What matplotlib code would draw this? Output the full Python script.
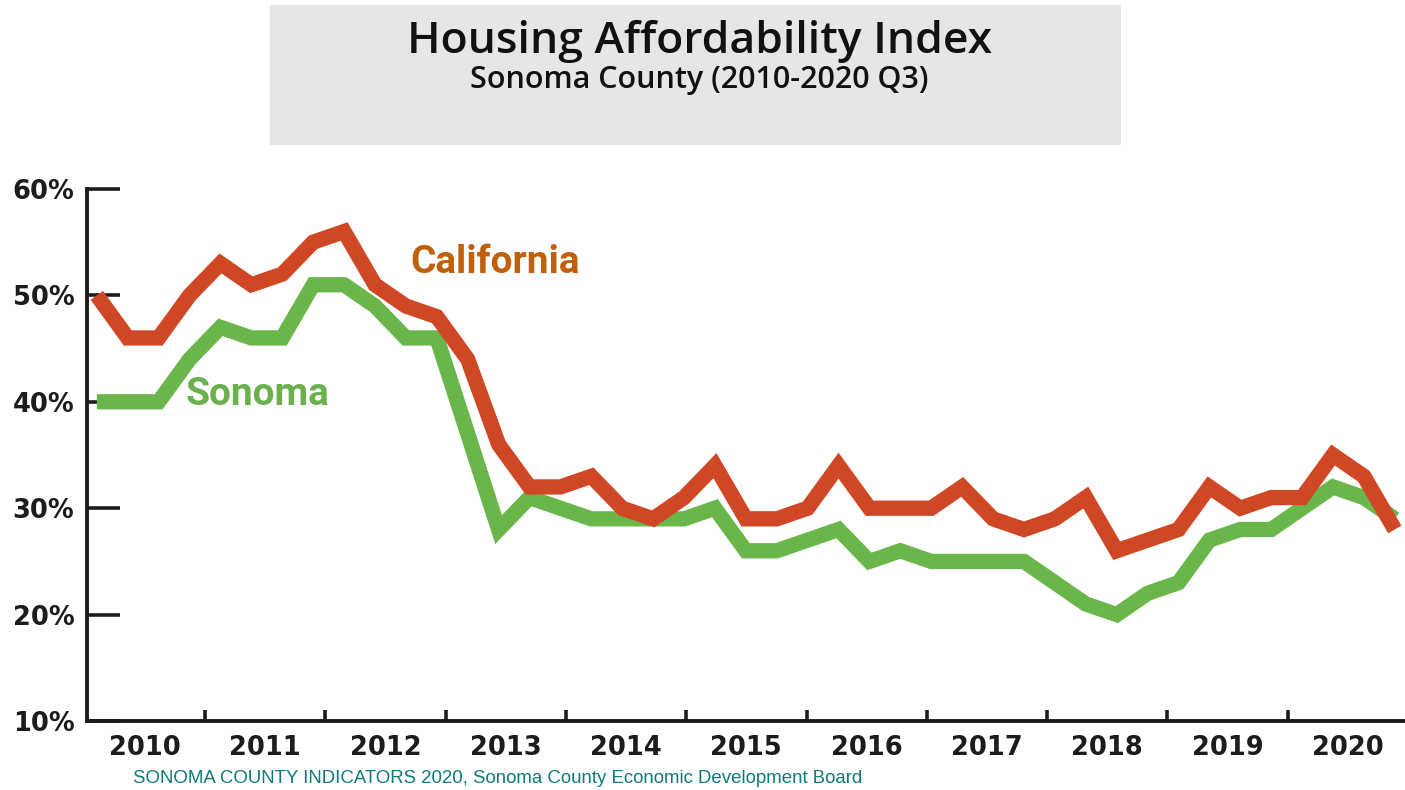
import matplotlib

matplotlib.use("Agg")
import matplotlib.pyplot as plt
from matplotlib.patches import Rectangle

# quarterly values, 2010 Q1 .. 2020 Q3 (percent of households able to afford median home)
california = [50, 46, 46, 50, 53, 51, 52, 55, 56, 51, 49, 48,
              44, 36, 32, 32, 33, 30, 29, 31, 34, 29, 29, 30,
              34, 30, 30, 30, 32, 29, 28, 29, 31, 26, 27, 28,
              32, 30, 31, 31, 35, 33, 28]
sonoma = [40, 40, 40, 44, 47, 46, 46, 51, 51, 49, 46, 46,
          37, 28, 31, 30, 29, 29, 29, 29, 30, 26, 26, 27,
          28, 25, 26, 25, 25, 25, 25, 23, 21, 20, 22, 23,
          27, 28, 28, 30, 32, 31, 29]
years = [str(y) for y in range(2010, 2021)]
y_ticks = [10, 20, 30, 40, 50, 60]

RED = "#d04726"
GREEN = "#6ab64a"
INK = "#1c1c1c"


def main():
    fig = plt.figure(figsize=(14.05, 7.9), dpi=100)

    # grey title banner
    fig.patches.append(Rectangle((0.192, 0.8165), 0.606, 0.177, transform=fig.transFigure,
                                 facecolor="#e6e6e6", edgecolor="none", zorder=0))
    fig.text(0.498, 0.947, "Housing Affordability Index", ha="center", va="center",
             fontsize=32, family="Open Sans", weight="semibold", color="#111111")
    fig.text(0.498, 0.899, "Sonoma County (2010-2020 Q3)", ha="center", va="center",
             fontsize=22, family="Open Sans", weight="semibold", color="#111111")

    ax = fig.add_axes([0.0619, 0.0873, 0.9381, 0.6735])
    x = list(range(len(california)))
    ax.plot(x, sonoma, color=GREEN, lw=11, solid_joinstyle="miter", solid_capstyle="butt", zorder=3)
    ax.plot(x, california, color=RED, lw=11, solid_joinstyle="miter", solid_capstyle="butt", zorder=4)

    ax.set_xlim(-0.32, 42.33)
    ax.set_ylim(10, 60)

    for side in ("top", "right"):
        ax.spines[side].set_visible(False)
    for side in ("left", "bottom"):
        ax.spines[side].set_linewidth(2.8)
        ax.spines[side].set_color(INK)

    ax.set_yticks(y_ticks)
    ax.set_yticklabels([f"{v}%" for v in y_ticks])
    ax.tick_params(axis="y", direction="in", length=24, width=2.6, color=INK, pad=9)

    # year boundary ticks, labels centred between them
    step = 3.893
    ax.set_xticks([3.5 + step * k for k in range(10)])
    ax.set_xticks([1.55 + step * k for k in range(len(years))], minor=True)
    ax.set_xticklabels(years, minor=True)
    ax.tick_params(axis="x", which="major", direction="in", length=8, width=2.6,
                   color=INK, labelbottom=False)
    ax.tick_params(axis="x", which="minor", length=0, pad=10)

    for lab in ax.get_yticklabels() + ax.get_xticklabels(minor=True):
        lab.set_family("DejaVu Sans")
        lab.set_weight("bold")
        lab.set_fontsize(18.5)
        lab.set_color(INK)

    ax.text(10.13, 53.1, "California", color="#c0600c", fontsize=28, family="Roboto",
            weight="bold", ha="left", va="center")
    ax.text(2.88, 40.7, "Sonoma", color="#6ab04c", fontsize=28, family="Roboto",
            weight="bold", ha="left", va="center")

    fig.text(0.0947, 0.014, "SONOMA COUNTY INDICATORS 2020, Sonoma County Economic Development Board",
             ha="left", va="center", fontsize=13.4, family="Liberation Sans", color="#0e7b7a")

    fig.savefig("out.png", dpi=100)


if __name__ == "__main__":
    main()
